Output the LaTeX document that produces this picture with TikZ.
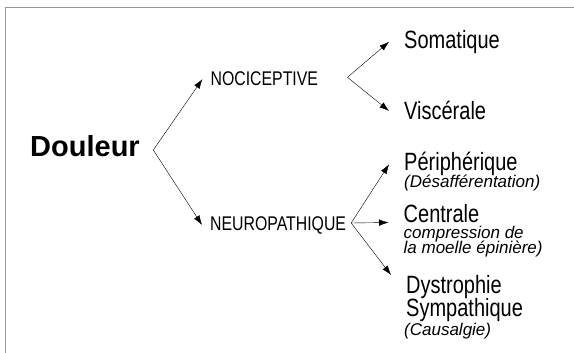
\documentclass[tikz,border=0pt]{standalone}
\usepackage{fontspec}
\setmainfont{Liberation Sans}
\newfontfamily\narrowfont[FakeStretch=0.8]{Liberation Sans}
\usepackage{tikz}
\usetikzlibrary{
  arrows.meta,
  positioning
}
\tikzset{>={Latex[length=9.5pt,width=6.5pt]}}
\tikzset{line width=0.9pt}
\tikzset{root/.style={anchor=base west, inner sep=0pt,
    font=\bfseries\fontsize{29}{34}\selectfont}}
\tikzset{kind/.style={anchor=base west, inner xsep=8pt, inner ysep=0pt,
    font=\narrowfont\fontsize{19.8}{24}\selectfont}}
\tikzset{leaf/.style={anchor=base west, inner xsep=15pt, inner ysep=0pt,
    font=\narrowfont\fontsize{25}{30}\selectfont}}
\tikzset{note/.style={anchor=base west, inner sep=0pt,
    font=\itshape\fontsize{17}{20}\selectfont}}
\tikzset{frame/.style={draw=black!40, line width=1pt}}

\begin{document}
\begin{tikzpicture}[x=1pt,y=1pt]
  \useasboundingbox (0,0) rectangle (574,-353);
  \draw[frame] (5,-353) |- (574,-8);
  % root and the two kinds
  \node[root] (dou) at (30,-156.7) {Douleur};
  \coordinate (douv) at (153.3,-150);
  \node[kind] (noci) at (202.4,-86) {NOCICEPTIVE};
  \node[kind] (neuro) at (202,-230) {NEUROPATHIQUE};
  \coordinate (nociv) at (347.5,-77.3);
  \coordinate (neurov) at (351.2,-223);
  % leaves
  \node[leaf] (som) at (389,-48.3) {Somatique};
  \node[leaf] (vis) at (389,-120) {Viscérale};
  \node[leaf] (per) at (389,-171) {Périphérique};
  \node[note] (desa) at (404,-187.5) {(Désafférentation)};
  \node[leaf] (cen) at (388.5,-222.5) {Centrale};
  \node[note] (comp) at (403.5,-238.5) {compression de};
  \node[note] (moel) at (403.5,-254) {la moelle épinière)};
  \node[leaf] (dys) at (391,-293.3) {Dystrophie};
  \node[leaf] (symp) at (391,-316.7) {Sympathique};
  \node[note] (caus) at (404,-335.5) {(Causalgie)};
  % connectors
  \draw[->] (douv) -- (noci.west);
  \draw[->] (douv) -- (neuro.west);
  \foreach \t in {som,vis}
    \draw[->] (nociv) -- (\t.west);
  \foreach \t/\a in {per/west, cen/base west, dys/north west}
    \draw[->] (neurov) -- (\t.\a);
\end{tikzpicture}
\end{document}
